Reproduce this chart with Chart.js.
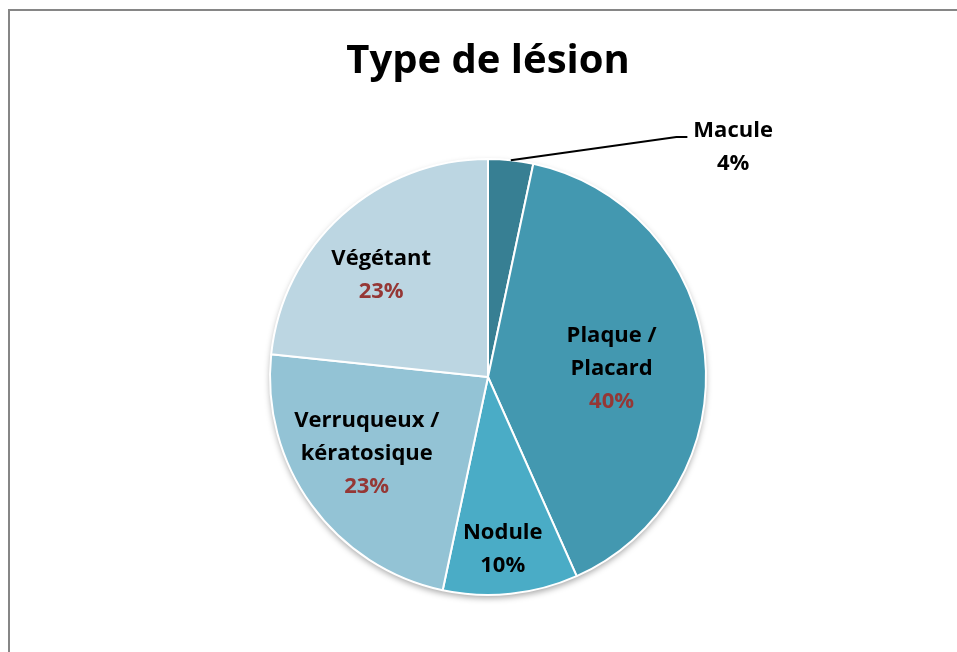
<!DOCTYPE html>
<html>
<head>
<meta charset="utf-8">
<script src="https://cdn.jsdelivr.net/npm/chart.js@4.4.1/dist/chart.umd.min.js"></script>
<style>
html, body { margin: 0; padding: 0; background: #fff; overflow: hidden; }
#wrap { position: relative; width: 957px; height: 652px; }
#frame { position: absolute; left: 8px; top: 9px; width: 1000px; height: 1000px; border: 2px solid #868686; box-sizing: border-box; }
#lesion_chart { position: absolute; left: 0; top: 0; }
</style>
</head>
<body>
<div id="wrap">
    <div id="frame"></div>
    <canvas id="lesion_chart" width="957" height="652"></canvas>
</div>
<script>
// data
var categories = ["Macule", "Plaque / Placard", "Nodule", "Verruqueux / kératosique", "Végétant"];
var labelLines = [["Macule"], ["Plaque /", "Placard"], ["Nodule"], ["Verruqueux /", "kératosique"], ["Végétant"]];
var counts = [1, 12, 3, 7, 7];
var percentLabels = ["4%", "40%", "10%", "23%", "23%"];

var sliceColors = ["#377f93", "#4398b0", "#4aacc6", "#93c3d5", "#bcd6e2"];
var percentColors = ["#000000", "#953735", "#000000", "#953735", "#953735"];
// label placement: fraction of radius, angle shift in degrees
var labelPlace = [
    { r: 1.54, shift: 40.9, outside: true },
    { r: 0.568, shift: 2.4 },
    { r: 0.793, shift: 1.1 },
    { r: 0.659, shift: 3.6 },
    { r: 0.678, shift: -4.3 }
];
var labelFont = "bold 22px 'Open Sans'";
var lineH = 33;

var pieShadow = {
    id: "pieShadow",
    beforeDatasetsDraw: function(chart) {
        var arc = chart.getDatasetMeta(0).data[0];
        var ctx = chart.ctx;
        ctx.save();
        ctx.shadowColor = "rgba(0,0,0,0.35)";
        ctx.shadowBlur = 6;
        ctx.shadowOffsetY = 3;
        ctx.fillStyle = "#ffffff";
        ctx.beginPath();
        ctx.arc(arc.x, arc.y, arc.outerRadius, 0, Math.PI * 2);
        ctx.fill();
        ctx.restore();
    }
};

var sliceLabels = {
    id: "sliceLabels",
    afterDatasetsDraw: function(chart) {
        var ctx = chart.ctx;
        var meta = chart.getDatasetMeta(0);
        ctx.save();
        ctx.font = labelFont;
        ctx.textAlign = "center";
        ctx.textBaseline = "middle";
        meta.data.forEach(function(arc, i) {
            var p = labelPlace[i];
            var mid = (arc.startAngle + arc.endAngle) / 2 + p.shift * Math.PI / 180;
            var R = arc.outerRadius;
            var cx = arc.x + Math.cos(mid) * R * p.r;
            var cy = arc.y + Math.sin(mid) * R * p.r;
            var lines = labelLines[i].concat([percentLabels[i]]);
            var top = cy - (lines.length - 1) * lineH / 2;
            lines.forEach(function(txt, k) {
                ctx.fillStyle = k === lines.length - 1 ? percentColors[i] : "#000000";
                ctx.fillText(txt, cx, top + k * lineH);
            });
            if (p.outside) {
                var realMid = (arc.startAngle + arc.endAngle) / 2;
                var w = ctx.measureText(labelLines[i][0]).width;
                var ex = cx - w / 2 - 6;
                var ey = top + 6;
                ctx.strokeStyle = "#000000";
                ctx.lineWidth = 2;
                ctx.beginPath();
                ctx.moveTo(arc.x + Math.cos(realMid) * R, arc.y + Math.sin(realMid) * R);
                ctx.lineTo(ex - 11, ey);
                ctx.lineTo(ex, ey);
                ctx.stroke();
            }
        });
        ctx.restore();
    }
};

new Chart("lesion_chart", {
    type: "pie",
    data: {
        labels: categories,
        datasets: [{
            data: counts,
            backgroundColor: sliceColors,
            borderColor: "#ffffff",
            borderWidth: 2
        }]
    },
    options: {
        responsive: false,
        animation: false,
        layout: {
            padding: { top: 0, left: 19, right: 0, bottom: 56 }
        },
        plugins: {
            legend: { display: false },
            tooltip: { enabled: false },
            title: {
                display: true,
                text: "Type de lésion",
                color: "#000000",
                font: { family: "'Open Sans'", size: 40, weight: "bold" },
                padding: { top: 38, bottom: 72 }
            }
        }
    },
    plugins: [pieShadow, sliceLabels]
});
</script>
</body>
</html>
